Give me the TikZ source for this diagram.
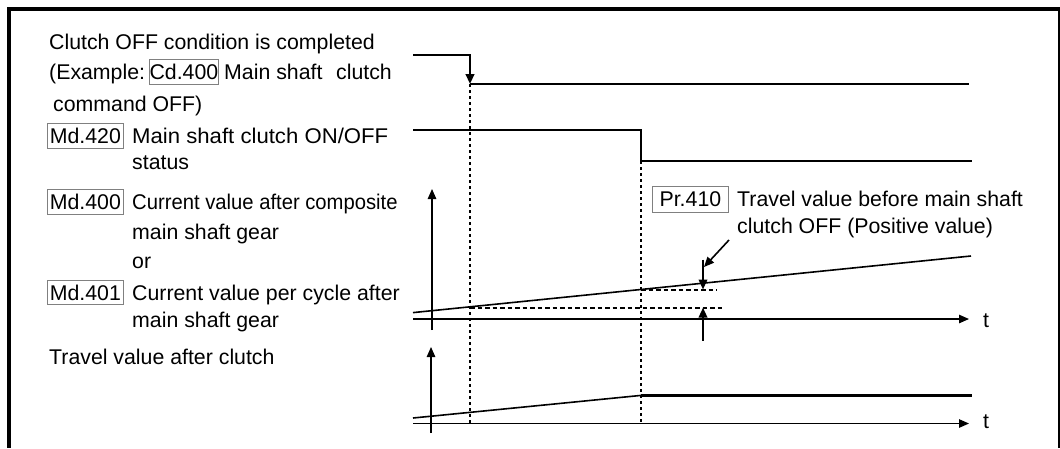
\documentclass[tikz,border=0pt]{standalone}
\usepackage{fontspec}
\setmainfont{Liberation Sans}
\usetikzlibrary{arrows.meta}
\begin{document}
\begin{tikzpicture}[x=1pt,y=-1pt,
  txt/.style={anchor=base west, inner sep=0pt, font=\fontsize{21.3}{25}\selectfont},
  lbox/.style={draw=black!50, line width=0.8pt, anchor=base west, inner xsep=0pt, inner ysep=4.5pt,
     text height=15.5pt, text depth=0pt, align=center, minimum width=76pt, font=\fontsize{21.3}{25}\selectfont},
  sig/.style={line width=2.9pt},
  ax/.style={line width=1.2pt},
  tip/.style={-{Triangle[length=10pt,width=8.5pt]}},
  vline/.style={line width=2.2pt, dash pattern=on 3pt off 3pt},
  hdash/.style={line width=2pt, dash pattern=on 4.5pt off 3pt},
  ramp/.style={line width=1.6pt},
  frame/.style={line width=4pt}
]
\useasboundingbox (0,0) rectangle (1060,448);
% frame
\coordinate (fr1) at (7,9);
\coordinate (fr2) at (1060,9);
\coordinate (fr3) at (9,7);
\coordinate (fr4) at (9,448);
\coordinate (fr5) at (1058.5,9);
\coordinate (fr6) at (1058.5,448);
\draw[frame] (fr1) -- (fr2);
\draw[frame] (fr3) -- (fr4);
\draw[line width=2pt] (fr5) -- (fr6);

% left texts
\node[txt] (c1) at (49,49.7) {Clutch OFF condition is completed};
\node[txt] (c2) at (49,79.8) {(Example:};
\node[lbox, minimum width=69pt] (cd) at (149,79.8) {Cd.400};
\node[txt] (c3) at (224,79.8) {Main shaft};
\node[txt] (c4) at (336,79.8) {clutch};
\node[txt] (c5) at (53,111.6) {command OFF)};
\node[lbox] (md420) at (47,143.7) {Md.420};
\node[txt] (m1) at (132,143.7) {\scalebox{1.04}[1]{Main shaft clutch ON/OFF}};
\node[txt] (m2) at (132,169) {status};
\node[lbox] (md400) at (47,209.6) {Md.400};
\node[txt] (m3) at (132,209.6) {\scalebox{0.95}[1]{Current value after composite}};
\node[txt] (m4) at (132,239.2) {main shaft gear};
\node[txt] (m5) at (132,268) {or};
\node[lbox] (md401) at (47,300) {Md.401};
\node[txt] (m6) at (132,300) {Current value per cycle after};
\node[txt] (m7) at (132,327) {main shaft gear};
\node[txt] (tv) at (49,364) {Travel value after clutch};

% right texts
\node[lbox, text depth=2pt] (pr) at (652,206) {Pr.410};
\node[txt] (p1) at (737,206) {Travel value before main shaft};
\node[txt] (p2) at (737,233) {clutch OFF (Positive value)};
\node[txt] (t1) at (983,327) {t};
\node[txt] (t2) at (983,428) {t};

% signal 1
\coordinate (a0) at (413,55);
\coordinate (a1) at (470,55);
\coordinate (a2) at (470,84);
\coordinate (a3) at (969,84);
\draw[sig, tip] (a0) -- (a1) -- (a2);
\draw[sig] (a2) -- (a3);

% signal 2
\coordinate (b0) at (413,130);
\coordinate (b1) at (641,130);
\coordinate (b2) at (641,161);
\coordinate (b3) at (972,161);
\draw[sig] (b0) -- (b1) -- (b2) -- (b3);

% dotted verticals
\coordinate (d1) at (470,423);
\coordinate (d2) at (641,423);
\draw[vline] (a2) -- (d1);
\draw[vline] (b2) -- (d2);

% axes 1
\coordinate (y1b) at (432,330);
\coordinate (y1t) at (432,189);
\coordinate (x1l) at (413,319);
\coordinate (x1r) at (969,319);
\draw[ax, tip] (y1b) -- (y1t);
\draw[ax, tip] (x1l) -- (x1r);

% ramp 1
\coordinate (r0) at (413,312.6);
\coordinate (r1) at (971,256);
\draw[ramp] (r0) -- (r1);

% dashed references
\coordinate (e1) at (470,307.6);
\coordinate (e2) at (722,307.6);
\coordinate (f1) at (641,289.5);
\coordinate (f2) at (717,289.5);
\draw[hdash] (e1) -- (e2);
\draw[hdash] (f1) -- (f2);

% dimension arrows
\coordinate (g0) at (703,259.5);
\coordinate (g1) at (703,289.5);
\coordinate (h0) at (703,340.5);
\coordinate (h1) at (703,307.6);
\draw[line width=2pt, tip] (g0) -- (g1);
\draw[line width=2pt, tip] (h0) -- (h1);
\coordinate (k0) at (729,240);
\coordinate (k1) at (704,267);
\draw[line width=1.6pt, tip] (k0) -- (k1);

% axes 2
\coordinate (y2b) at (431,433);
\coordinate (y2t) at (431,347);
\coordinate (x2l) at (413,423.5);
\coordinate (x2r) at (969,423.5);
\draw[ax, tip] (y2b) -- (y2t);
\draw[ax, tip] (x2l) -- (x2r);

% ramp 2
\coordinate (s0) at (413,418);
\coordinate (s1) at (641,395.4);
\coordinate (s2) at (972,395.4);
\draw[ramp] (s0) -- (s1);
\draw[line width=2.5pt] (s1) -- (s2);
\end{tikzpicture}
\end{document}
